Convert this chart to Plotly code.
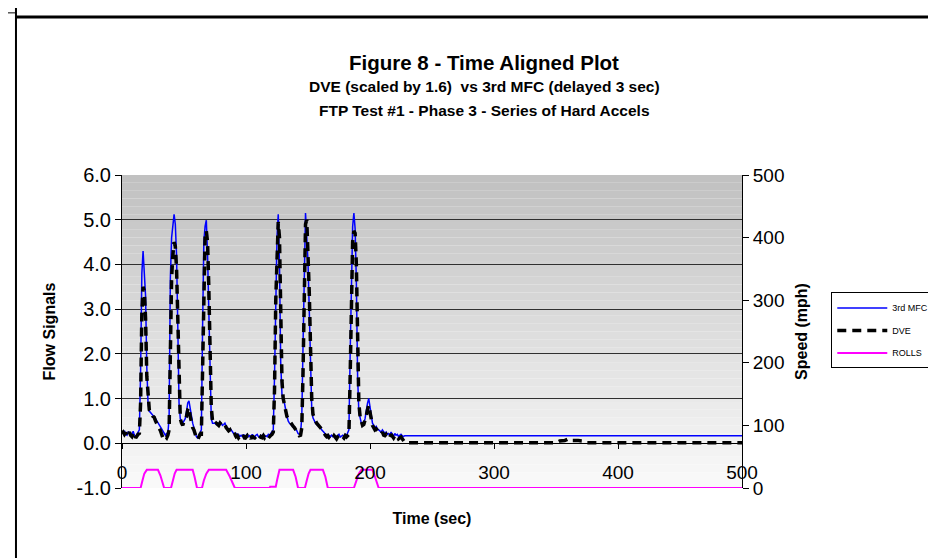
import plotly.graph_objects as go

# flow signals, one sample a second from 0 to 229 s, then the flat tail
flow_time = list(range(0, 230)) + [240, 350, 353, 357, 360, 363, 368, 372, 375, 500]

mfc_flow = [
    # 0-14
    0.25, 0.22, 0.28, 0.20, 0.18, 0.26, 0.22, 0.15, 0.20, 0.27, 0.18, 0.14, 0.20, 0.24, 0.30,
    # 15-22 accel 1
    1.60, 3.80, 4.30, 3.85, 3.30, 1.70, 0.90, 0.72,
    # 23-37
    0.68, 0.66, 0.62, 0.60, 0.55, 0.50, 0.48, 0.42, 0.35, 0.30, 0.25, 0.20, 0.18, 0.22, 0.20,
    # 38-47 accel 2
    0.60, 3.70, 4.60, 4.90, 5.12, 4.90, 4.20, 2.60, 0.90, 0.55,
    # 48-63
    0.50, 0.45, 0.50, 0.55, 0.70, 0.90, 0.95, 0.75, 0.60, 0.45, 0.35, 0.25, 0.15, 0.12, 0.18, 0.22,
    # 64-73 accel 3
    0.30, 2.60, 4.50, 4.85, 4.99, 4.20, 2.80, 1.20, 0.55, 0.45,
    # 74-95
    0.45, 0.45, 0.42, 0.45, 0.44, 0.42, 0.45, 0.40, 0.42, 0.45,
    0.38, 0.35, 0.30, 0.28, 0.30, 0.25, 0.22, 0.20, 0.22, 0.18, 0.20, 0.15,
    # 96-121
    0.18, 0.15, 0.20, 0.14, 0.18, 0.20, 0.15, 0.17, 0.13, 0.20,
    0.16, 0.14, 0.18, 0.20, 0.15, 0.13, 0.18, 0.16, 0.20, 0.14,
    0.17, 0.15, 0.20, 0.18, 0.22, 0.25,
    # 122-131 accel 4
    0.30, 1.50, 3.60, 4.60, 5.12, 4.00, 1.80, 1.10, 0.95, 0.90,
    # 132-144
    0.75, 0.60, 0.50, 0.45, 0.42, 0.38, 0.35, 0.34, 0.30, 0.28, 0.22, 0.20, 0.22,
    # 145-154 accel 5
    0.60, 2.20, 3.60, 5.15, 4.60, 4.05, 3.00, 1.80, 0.80, 0.57,
    # 155-182
    0.50, 0.45, 0.42, 0.40, 0.38, 0.35, 0.30, 0.28, 0.24, 0.20,
    0.18, 0.20, 0.17, 0.15, 0.18, 0.14, 0.20, 0.16, 0.15, 0.18,
    0.20, 0.14, 0.16, 0.18, 0.15, 0.20, 0.17, 0.22,
    # 183-192 accel 6
    0.30, 2.00, 3.50, 4.85, 5.15, 4.80, 3.60, 1.50, 0.70, 0.55,
    # 193-229
    0.45, 0.42, 0.45, 0.55, 0.75, 0.90, 1.00, 0.80, 0.55, 0.45,
    0.40, 0.35, 0.38, 0.32, 0.30, 0.28, 0.25, 0.30, 0.24, 0.22,
    0.25, 0.20, 0.22, 0.18, 0.25, 0.20, 0.15, 0.22, 0.18,
    0.20, 0.15, 0.18, 0.20, 0.17, 0.15, 0.17, 0.17,
    # tail
    0.17, 0.17, 0.17, 0.17, 0.17, 0.17, 0.17, 0.17, 0.17, 0.17,
]

dve_flow = [
    # 0-14
    0.22, 0.25, 0.20, 0.24, 0.15, 0.22, 0.25, 0.18, 0.15, 0.22, 0.25, 0.12, 0.18, 0.20, 0.22,
    # 15-22
    0.90, 2.90, 3.50, 3.40, 2.80, 1.50, 0.95, 0.75,
    # 23-37
    0.70, 0.68, 0.60, 0.58, 0.50, 0.45, 0.42, 0.35, 0.28, 0.20, 0.12, 0.10, 0.15, 0.12, 0.18,
    # 38-47
    0.30, 2.00, 3.70, 4.20, 4.50, 4.40, 3.90, 2.80, 1.20, 0.55,
    # 48-63
    0.45, 0.40, 0.50, 0.55, 0.60, 0.75, 0.80, 0.60, 0.45, 0.35, 0.30, 0.20, 0.12, 0.08, 0.15, 0.20,
    # 64-73
    0.20, 1.80, 3.60, 4.60, 4.75, 4.50, 3.50, 2.00, 0.80, 0.50,
    # 74-95
    0.45, 0.42, 0.45, 0.42, 0.40, 0.45, 0.42, 0.38, 0.40, 0.42,
    0.35, 0.30, 0.28, 0.30, 0.22, 0.20, 0.18, 0.20, 0.15, 0.17, 0.12, 0.15,
    # 96-121
    0.15, 0.12, 0.18, 0.10, 0.15, 0.17, 0.12, 0.15, 0.10, 0.17,
    0.13, 0.12, 0.15, 0.17, 0.12, 0.10, 0.15, 0.13, 0.17, 0.12,
    0.15, 0.12, 0.17, 0.15, 0.18, 0.20,
    # 122-131
    0.25, 1.20, 3.20, 4.50, 4.95, 4.60, 2.60, 1.40, 1.00, 0.85,
    # 132-144
    0.70, 0.60, 0.55, 0.50, 0.45, 0.42, 0.38, 0.35, 0.30, 0.25, 0.20, 0.17, 0.18,
    # 145-154
    0.35, 1.60, 3.80, 4.90, 5.00, 4.30, 3.40, 2.20, 1.00, 0.65,
    # 155-182
    0.55, 0.50, 0.45, 0.42, 0.40, 0.35, 0.32, 0.28, 0.22, 0.18,
    0.15, 0.17, 0.12, 0.10, 0.15, 0.12, 0.17, 0.13, 0.10, 0.15,
    0.17, 0.12, 0.13, 0.15, 0.12, 0.17, 0.14, 0.18,
    # 183-192
    0.20, 1.50, 3.20, 4.50, 4.75, 4.70, 4.00, 2.20, 0.90, 0.60,
    # 193-229
    0.45, 0.40, 0.42, 0.50, 0.62, 0.75, 0.85, 0.70, 0.50, 0.40,
    0.35, 0.30, 0.32, 0.28, 0.25, 0.22, 0.20, 0.25, 0.18, 0.17,
    0.20, 0.15, 0.18, 0.14, 0.20, 0.15, 0.12, 0.17, 0.13,
    0.15, 0.10, 0.12, 0.14, 0.10, 0.05, 0.02, 0.01,
    # tail
    0.01, 0.01, 0.05, 0.06, 0.10, 0.06, 0.06, 0.05, 0.01, 0.01,
]

assert len(mfc_flow) == len(flow_time) and len(dve_flow) == len(flow_time)

# roll speed (mph)
roll_time = [0, 15, 16.5, 18, 20, 29, 31, 34,
             39.5, 41, 42.5, 44, 57, 58.5, 60.5,
             64.5, 66, 68, 70, 84, 87, 91,
             119, 119.5, 124, 125, 126, 127, 138, 140, 142,
             147.5, 149, 150.5, 152, 162, 164, 166,
             187, 189, 191, 193, 202, 204, 207,
             500]
roll_speed = [0, 0, 12, 23, 29, 29, 20, 0,
              0, 12, 23, 29, 29, 18, 0,
              0, 12, 23, 29, 29, 18, 0,
              0, 2, 2, 12, 23, 29, 29, 18, 0,
              0, 12, 23, 29, 29, 18, 0,
              0, 12, 23, 29, 29, 18, 0,
              0]

flow_ticks = [-1, 0, 1, 2, 3, 4, 5, 6]
flow_tick_text = ["-1.0", "0.0", "1.0", "2.0", "3.0", "4.0", "5.0", "6.0"]

title_lines = [
    "Figure 8 - Time Aligned Plot",
    "DVE (scaled by 1.6) \u00a0vs 3rd MFC (delayed 3 sec)",
    "FTP Test #1 - Phase 3 - Series of Hard Accels",
]
title_sizes = [20.5, 15.5, 15.5]

FONT = "Liberation Sans, Arial, sans-serif"

fig = go.Figure()
fig.add_trace(go.Scatter(x=flow_time, y=mfc_flow, name="3rd MFC", mode="lines",
                         legendgroup="a", line=dict(color="#0000ff", width=1.5)))
fig.add_trace(go.Scatter(x=flow_time, y=dve_flow, name="DVE", mode="lines",
                         legendgroup="b", line=dict(color="black", width=3.5, dash="9px,6px")))
fig.add_trace(go.Scatter(x=roll_time, y=roll_speed, name="ROLLS", mode="lines",
                         legendgroup="c", line=dict(color="#ff00ff", width=2), yaxis="y2"))

# grey-to-white gradient behind the plot area
shapes = []
n = 40
for i in range(n):
    c = round(250 - 58 * (i + 0.5) / n)
    shapes.append(dict(type="rect", xref="paper", yref="paper", x0=0, x1=1,
                       y0=i / n, y1=(i + 1) / n, layer="below",
                       line=dict(width=0), fillcolor=f"rgb({c},{c},{c})"))
# outer chart border
shapes.append(dict(type="line", xref="paper", yref="paper", x0=-0.171, x1=1.4,
                   y0=1.505, y1=1.505, line=dict(color="black", width=3)))
shapes.append(dict(type="line", xref="paper", yref="paper", x0=-0.171, x1=-0.171,
                   y0=-0.3, y1=1.54, line=dict(color="black", width=2)))
shapes.append(dict(type="line", xref="paper", yref="paper", x0=-0.19, x1=-0.171,
                   y0=1.518, y1=1.518, line=dict(color="black", width=1)))

annotations = []
for ypos, txt, sz in zip([1.361, 1.284, 1.2045], title_lines, title_sizes):
    annotations.append(dict(text=f"<b>{txt}</b>", xref="paper", yref="paper",
                            x=0.5839, y=ypos, xanchor="center", yanchor="middle",
                            showarrow=False, font=dict(size=sz, family=FONT)))

fig.update_layout(
    width=936, height=558,
    margin=dict(l=114, r=202, t=167, b=78, autoexpand=False),
    paper_bgcolor="white", plot_bgcolor="white",
    font=dict(family=FONT, color="black", size=18),
    shapes=shapes,
    annotations=annotations,
    showlegend=True,
    legend=dict(x=1.144, y=0.625, xanchor="left", yanchor="top",
                bordercolor="black", borderwidth=1, bgcolor="white",
                font=dict(size=9), traceorder="grouped", tracegroupgap=3.5,
                itemwidth=50),
    xaxis=dict(range=[0, 500], dtick=100, anchor="free", position=1 / 7,
               showline=True, linecolor="black", linewidth=1,
               ticks="outside", ticklen=5, tickcolor="black",
               ticklabelstandoff=7, showgrid=False, zeroline=False,
               tickfont=dict(size=19),
               title=dict(text="<b>Time (sec)</b>", font=dict(size=16), standoff=30)),
    yaxis=dict(range=[-1, 6], tickvals=flow_ticks, ticktext=flow_tick_text,
               showline=True, linecolor="black", linewidth=1,
               ticks="outside", ticklen=6, tickcolor="black",
               showgrid=True, gridcolor="#303030", gridwidth=1, zeroline=False,
               tickfont=dict(size=20),
               title=dict(text="<b>Flow Signals</b>", font=dict(size=16), standoff=16)),
    yaxis2=dict(range=[0, 500], dtick=100, overlaying="y", side="right", anchor="x",
                showline=True, linecolor="black", linewidth=1,
                ticks="outside", ticklen=6, tickcolor="black",
                showgrid=False, zeroline=False, tickfont=dict(size=19),
                title=dict(text="<b>Speed (mph)</b>", font=dict(size=16), standoff=12)),
)

fig.write_html("out.html")
